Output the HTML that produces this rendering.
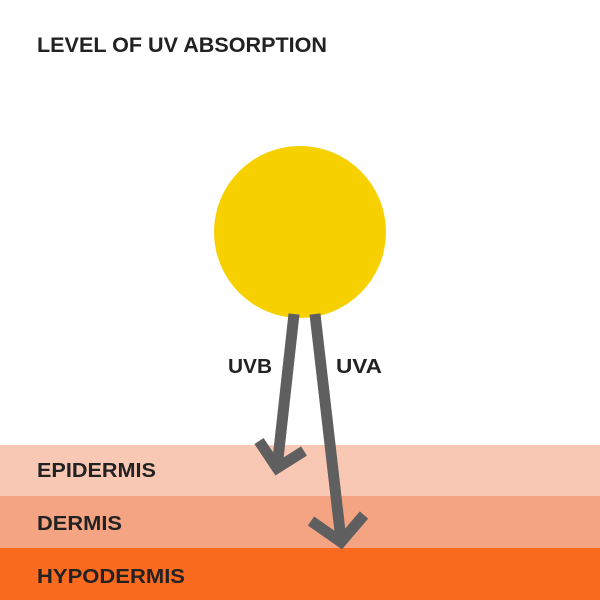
<!DOCTYPE html>
<html><head><meta charset="utf-8"><style>
html,body{margin:0;padding:0;background:#fff;}
svg{display:block;font-family:"Liberation Sans",sans-serif;}
</style></head><body>
<svg width="600" height="600" viewBox="0 0 600 600">
<rect x="0" y="0" width="600" height="600" fill="#fff"/>
<text x="37" y="52" font-size="21" font-weight="bold" fill="#222" textLength="290" lengthAdjust="spacingAndGlyphs">LEVEL OF UV ABSORPTION</text>
<rect x="0" y="445" width="600" height="51" fill="#f9c8b4"/>
<rect x="0" y="496" width="600" height="52" fill="#f4a482"/>
<rect x="0" y="548" width="600" height="52" fill="#fb6a1e"/>
<circle cx="300" cy="232" r="86" fill="#f7d000"/>
<g stroke="#5f5f5f" stroke-width="11" fill="none" stroke-linecap="butt" stroke-linejoin="miter">
<line x1="294" y1="314" x2="277" y2="468"/>
<polyline points="259,441 277,468 304,451"/>
<line x1="315" y1="314" x2="341" y2="540"/>
<polyline points="311,521 341,542 364,515"/>
</g>
<text x="228" y="373" font-size="20" font-weight="bold" fill="#222" textLength="44" lengthAdjust="spacingAndGlyphs">UVB</text>
<text x="336" y="373" font-size="20" font-weight="bold" fill="#222" textLength="46" lengthAdjust="spacingAndGlyphs">UVA</text>
<text x="37" y="477" font-size="20" font-weight="bold" fill="#222" textLength="119" lengthAdjust="spacingAndGlyphs">EPIDERMIS</text>
<text x="37" y="530" font-size="20" font-weight="bold" fill="#222" textLength="85" lengthAdjust="spacingAndGlyphs">DERMIS</text>
<text x="37" y="583" font-size="20" font-weight="bold" fill="#222" textLength="148" lengthAdjust="spacingAndGlyphs">HYPODERMIS</text>
</svg>
</body></html>
